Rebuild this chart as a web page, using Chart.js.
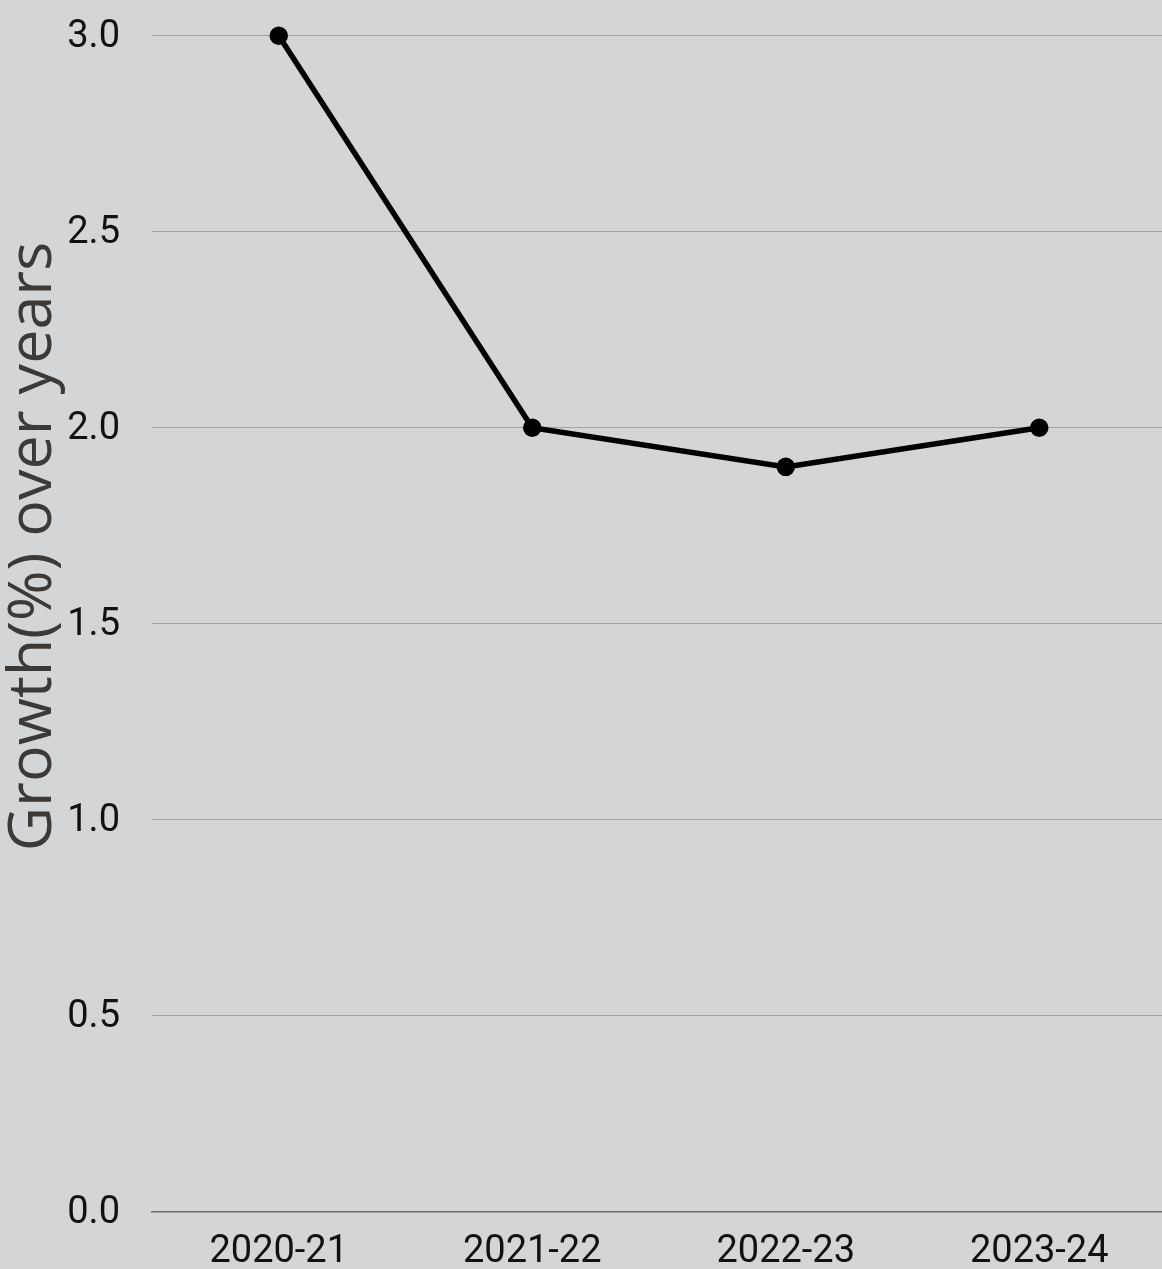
<!DOCTYPE html>
<html>
<head>
<meta charset="utf-8">
<script src="https://cdn.jsdelivr.net/npm/chart.js@4/dist/chart.umd.min.js"></script>
<style>
  html, body { margin: 0; padding: 0; background: #d4d5d7; overflow: hidden; }
  #wrap { width: 1166px; height: 1312px; position: relative; margin-top: -19px; }
</style>
</head>
<body>
<div id="wrap"><canvas id="chart"></canvas></div>
<script>
// Annual growth figures
const years = ['2020-21', '2021-22', '2022-23', '2023-24'];
const growth = [3.0, 2.0, 1.9, 2.0];
const yTicks = [0, 0.5, 1.0, 1.5, 2.0, 2.5, 3.0];
const yTitle = 'Growth(%) over years';

Chart.defaults.font.family = 'Roboto, sans-serif';

// Vertical axis caption, written bottom-to-top beside the value labels
const axisCaption = {
  id: 'axisCaption',
  afterDraw(chart) {
    const ctx = chart.ctx;
    ctx.save();
    ctx.translate(50.5, 565.5);
    ctx.rotate(-Math.PI / 2);
    ctx.font = '61px "Open Sans", sans-serif';
    ctx.fillStyle = '#3c3a38';
    ctx.textAlign = 'center';
    ctx.textBaseline = 'alphabetic';
    ctx.fillText(yTitle, 0, 0);
    ctx.restore();
  }
};

new Chart(document.getElementById('chart'), {
  type: 'line',
  data: {
    labels: years,
    datasets: [{
      data: growth,
      borderColor: '#000000',
      backgroundColor: '#000000',
      borderWidth: 5.5,
      pointRadius: 6.5,
      pointHoverRadius: 6.5,
      tension: 0,
      fill: false,
      clip: false
    }]
  },
  plugins: [axisCaption],
  options: {
    responsive: true,
    maintainAspectRatio: false,
    animation: false,
    layout: { autoPadding: false, padding: { top: 0, right: 0, left: 0, bottom: 0 } },
    plugins: { legend: { display: false }, tooltip: { enabled: false } },
    scales: {
      x: {
        offset: true,
        grid: { display: false, drawTicks: false },
        border: { display: true, color: '#6e6e6e', width: 1.5 },
        ticks: { color: '#111111', font: { size: 38 }, padding: 18, maxRotation: 0 }
      },
      y: {
        min: 0,
        max: 3,
        afterBuildTicks: (axis) => { axis.ticks = yTicks.map(v => ({ value: v })); },
        afterFit: (axis) => { axis.width = 152; },
        grid: { color: '#a2a2a2', lineWidth: 1, drawTicks: false },
        border: { display: false },
        ticks: {
          color: '#111111',
          font: { size: 38 },
          padding: 32,
          labelOffset: 2,
          callback: (v) => Number(v).toFixed(1)
        },
        title: { display: false }
      }
    }
  }
});
</script>
</body>
</html>
